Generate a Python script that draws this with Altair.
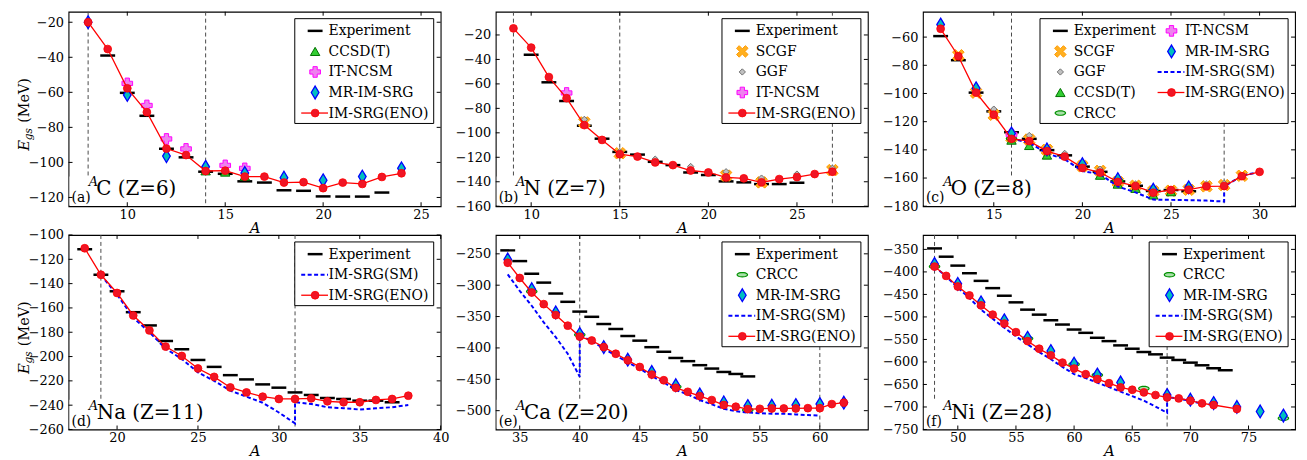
import math
import altair as alt
import pandas as pd

FONT = "DejaVu Serif"
W, H = 375, 196

# ---------------- (a) carbon ----------------
C_EXP_A = [9, 10, 11, 12, 13, 14, 15, 16, 17, 18, 19, 20, 21, 22, 23]
C_EXP_E = [-39.0, -60.3, -73.4, -92.2, -97.1, -105.3, -106.5, -110.8, -111.5, -115.9, -116.2, -119.4, -119.5, -119.5, -117.2]
C_ENO_A = [8, 9, 10, 11, 12, 13, 14, 15, 16, 17, 18, 19, 20, 21, 22, 23, 24]
C_ENO_E = [-20.0, -35.3, -57.7, -71.3, -92.1, -95.8, -104.9, -104.7, -108.1, -108.1, -111.5, -111.3, -114.7, -111.5, -112.3, -108.3, -106.2]
C_CCSDT_A = [14, 15, 16]
C_CCSDT_E = [-104.8, -105.5, -107.8]
C_NCSM_A = [10, 11, 12, 13, 15, 16]
C_NCSM_E = [-54.9, -67.5, -86.6, -92.3, -101.7, -103.4]
C_MR_A = [8, 10, 12, 14, 16, 18, 20, 22, 24]
C_MR_E = [-20.0, -61.5, -96.4, -102.5, -106.0, -108.7, -110.2, -108.1, -103.4]
C_DRIP = [8, 14]

# ---------------- (b) nitrogen ----------------
N_EXP_A = [10, 11, 12, 13, 14, 15, 16, 17, 18, 19, 20, 21, 22, 23, 24, 25]
N_EXP_E = [-36.2, -58.7, -73.9, -94.2, -104.8, -115.6, -117.8, -123.7, -126.4, -132.4, -134.5, -139.7, -140.5, -141.9, -141.9, -140.8]
N_ENO_A = [9, 10, 11, 12, 13, 14, 15, 16, 17, 18, 19, 20, 21, 22, 23, 24, 25, 26, 27]
N_ENO_E = [-14.6, -30.3, -54.4, -71.7, -93.7, -105.8, -117.5, -119.4, -124.2, -126.4, -130.8, -132.4, -136.5, -137.2, -140.5, -137.8, -136.2, -133.7, -131.8]
N_SCGF_A = [13, 15, 21, 23, 27]
N_SCGF_E = [-91.5, -116.7, -135.0, -140.5, -130.5]
N_GGF_A = [13, 15, 17, 19, 21, 23, 25, 27]
N_GGF_E = [-89.0, -115.3, -121.5, -127.5, -131.8, -137.0, -133.7, -128.9]
N_NCSM_A = [12]
N_NCSM_E = [-67.4]
N_DRIP = [9, 15, 27]

# ---------------- (c) oxygen ----------------
O_EXP_A = [12, 13, 14, 15, 16, 17, 18, 19, 20, 21, 22, 23, 24, 25, 26]
O_EXP_E = [-59.3, -76.4, -99.4, -112.7, -127.5, -132.2, -140.2, -143.9, -151.9, -155.6, -162.4, -165.5, -169.2, -168.5, -169.4]
O_ENO_A = [12, 13, 14, 15, 16, 17, 18, 19, 20, 21, 22, 23, 24, 25, 26, 27, 28, 29, 30]
O_ENO_E = [-54.1, -73.6, -99.4, -115.1, -132.2, -133.8, -140.9, -144.8, -152.8, -156.1, -162.7, -165.7, -170.4, -168.5, -168.3, -165.9, -165.7, -158.7, -155.6]
O_SCGF_A = [13, 14, 15, 16, 17, 18, 20, 21, 22, 23, 24, 25, 26, 27, 28, 29]
O_SCGF_E = [-72.9, -99.4, -115.1, -131.0, -132.7, -140.0, -151.5, -154.9, -162.7, -165.5, -169.4, -169.0, -168.3, -165.9, -165.0, -158.4]
O_GGF_A = [15, 16, 17, 18, 19, 20, 21, 22, 23, 24, 26, 27, 28]
O_GGF_E = [-111.1, -126.8, -129.8, -138.5, -142.5, -149.8, -153.7, -160.3, -164.3, -166.6, -166.2, -164.3, -163.8]
O_CCSDT_A = [16, 17, 18, 21, 22, 23, 24, 25]
O_CCSDT_E = [-133.1, -136.9, -143.7, -158.0, -164.3, -167.3, -172.0, -169.7]
O_CRCC_A = [16, 22, 24]
O_CRCC_E = [-132.0, -162.0, -169.0]
O_NCSM_A = [16]
O_NCSM_E = [-129.1]
O_MR_A = [12, 14, 16, 18, 20, 22, 24, 26]
O_MR_E = [-51.1, -96.3, -128.4, -139.7, -150.2, -160.8, -168.3, -166.6]
O_SM_A = [16, 17, 18, 19, 20, 21, 22, 23, 24, 25, 26, 27, 28, 28, 29, 30]
O_SM_E = [-132.0, -135.0, -142.5, -146.7, -155.0, -157.3, -166.0, -170.2, -175.3, -175.5, -175.7, -176.0, -176.7, -166.0, -158.4, -155.6]
O_DRIP = [16, 28]

# ---------------- (d) sodium ----------------
NA_EXP_A = [18, 19, 20, 21, 22, 23, 24, 25, 26, 27, 28, 29, 30, 31, 32, 33, 34, 35, 36, 37]
NA_EXP_E = [-111.7, -132.7, -146.3, -163.5, -174.4, -187.2, -194.0, -202.8, -208.5, -215.3, -218.8, -222.9, -225.6, -229.5, -231.6, -234.1, -234.9, -236.3, -236.3, -237.6]
NA_ENO_A = [18, 19, 20, 21, 22, 23, 24, 25, 26, 27, 28, 29, 30, 31, 32, 33, 34, 35, 36, 37, 38]
NA_ENO_E = [-110.9, -132.7, -147.7, -166.2, -178.5, -191.8, -199.5, -209.8, -216.7, -225.4, -229.5, -233.0, -234.9, -234.9, -234.4, -236.8, -237.6, -237.6, -235.7, -234.9, -232.2]
NA_SM_A = [19, 20, 21, 22, 23, 24, 25, 26, 27, 28, 29, 30, 31, 31, 32, 33, 34, 35, 36, 37, 38]
NA_SM_E = [-133.0, -149.0, -168.0, -180.0, -193.5, -202.0, -213.0, -220.0, -228.0, -233.0, -238.0, -246.0, -255.0, -237.6, -239.0, -241.7, -242.5, -243.6, -242.5, -241.7, -239.8]
NA_DRIP = [19, 31]

# ---------------- (e) calcium ----------------
CA_EXP_A = [34, 35, 36, 37, 38, 39, 40, 41, 42, 43, 44, 45, 46, 47, 48, 49, 50, 51, 52, 53, 54]
CA_EXP_E = [-244.5, -261.6, -281.6, -295.9, -313.3, -326.5, -342.1, -350.4, -361.9, -369.8, -381.0, -388.4, -398.8, -406.1, -416.0, -421.1, -427.5, -432.9, -438.3, -441.5, -445.4]
CA_ENO_A = [34, 35, 36, 37, 38, 39, 40, 41, 42, 43, 44, 45, 46, 47, 48, 49, 50, 51, 52, 53, 54, 55, 56, 57, 58, 59, 60, 61, 62]
CA_ENO_E = [-264.2, -288.5, -311.7, -330.2, -347.6, -364.5, -381.9, -388.2, -398.7, -409.3, -419.8, -430.4, -442.5, -451.5, -463.6, -469.9, -476.8, -483.1, -491.0, -493.7, -497.5, -497.0, -496.5, -496.5, -496.5, -496.0, -496.0, -489.5, -487.3]
CA_MR_A = [34, 36, 38, 40, 42, 44, 46, 48, 50, 52, 54, 56, 58, 60, 62]
CA_MR_E = [-259.0, -306.4, -343.4, -377.6, -398.7, -418.8, -438.3, -459.4, -474.2, -486.8, -492.6, -492.1, -491.0, -489.5, -487.3]
CA_CRCC_A = [36, 40, 48, 54]
CA_CRCC_E = [-310.0, -379.0, -462.0, -499.0]
CA_SM_A = [34, 35, 36, 37, 38, 39, 40, 40, 41, 42, 43, 44, 45, 46, 47, 48, 49, 50, 51, 52, 53, 54, 55, 56, 57, 58, 59, 60]
CA_SM_E = [-282.7, -309.0, -332.8, -359.2, -382.9, -409.3, -446.0, -380.0, -389.0, -401.0, -412.0, -423.0, -433.0, -445.0, -455.0, -467.0, -474.0, -483.0, -490.0, -497.0, -501.0, -503.0, -504.0, -505.0, -505.0, -506.0, -507.0, -508.0]
CA_DRIP = [40, 60]

# ---------------- (f) nickel ----------------
NI_EXP_A = [48, 49, 50, 51, 52, 53, 54, 55, 56, 57, 58, 59, 60, 61, 62, 63, 64, 65, 66, 67, 68, 69, 70, 71, 72, 73]
NI_EXP_E = [-347.8, -366.2, -386.0, -402.9, -419.9, -436.0, -452.9, -467.6, -483.8, -494.9, -507.4, -516.9, -528.0, -535.3, -546.3, -553.7, -563.2, -570.6, -577.9, -583.1, -590.4, -595.6, -601.5, -607.4, -614.0, -618.4]
NI_ENO_A = [48, 49, 50, 51, 52, 53, 54, 55, 56, 57, 58, 59, 60, 61, 62, 63, 64, 65, 66, 67, 68, 69, 70, 71, 72, 74]
NI_ENO_E = [-388.2, -408.8, -432.4, -452.2, -474.3, -494.9, -514.7, -533.8, -553.7, -570.6, -585.3, -601.5, -614.7, -627.2, -638.2, -647.1, -656.6, -661.8, -667.6, -673.5, -678.7, -680.9, -686.0, -691.9, -695.6, -704.4]
NI_MR_A = [48, 50, 52, 54, 56, 58, 60, 62, 64, 68, 70, 72, 74, 76, 78]
NI_MR_E = [-382.4, -426.5, -467.6, -507.4, -546.3, -575.7, -603.7, -628.0, -645.6, -673.5, -683.8, -691.2, -700.0, -710.0, -719.0]
NI_CRCC_A = [48, 56, 60, 62, 66, 78]
NI_CRCC_E = [-388.0, -548.0, -605.0, -629.0, -659.0, -725.0]
NI_SM_A = [48, 49, 50, 51, 52, 53, 54, 55, 56, 57, 58, 59, 60, 61, 62, 63, 64, 65, 66, 67, 68, 68, 69, 70, 71, 72]
NI_SM_E = [-388.0, -410.0, -435.0, -458.0, -484.0, -504.0, -524.0, -543.0, -561.0, -578.0, -594.0, -611.0, -627.0, -636.0, -646.0, -656.0, -666.0, -676.0, -686.0, -699.0, -713.0, -678.0, -681.0, -687.0, -692.0, -696.0]
NI_DRIP = [48, 68]

# ---------------- text ----------------
YTITLE_MAIN, YTITLE_SUB, YTITLE_UNIT = "E", "gs", "(MeV)"
XTITLE = "A"

# ---------------- marker styles ----------------
def poly_path(pts):
    return "M" + "L".join(f"{x:.3f},{y:.3f}" for x, y in pts) + "Z"

_a = 0.3
_plus = [(_a, 1), (_a, _a), (1, _a), (1, -_a), (_a, -_a), (_a, -1), (-_a, -1), (-_a, -_a),
         (-1, -_a), (-1, _a), (-_a, _a), (-_a, 1)]
X_PATH = poly_path([((x - y) / math.sqrt(2), (x + y) / math.sqrt(2)) for x, y in _plus])
ELLIPSE_PATH = poly_path([(math.cos(2 * math.pi * k / 20), 0.42 * math.sin(2 * math.pi * k / 20)) for k in range(20)])
THIN_DIAMOND = "M0,-1L0.6,0L0,1L-0.6,0Z"

MARKERS = {
    "CCSD(T)": dict(shape="triangle-up", size=90, fill="#32cd32", stroke="#007000", strokeWidth=1),
    "IT-NCSM": dict(shape="cross", size=115, fill="#ee82ee", stroke="#ff00ff", strokeWidth=1),
    "MR-IM-SRG": dict(shape=THIN_DIAMOND, size=165, fill="#00bfbf", stroke="#0000ff", strokeWidth=1.3),
    "SCGF": dict(shape=X_PATH, size=160, fill="#ffb020", stroke="#ff9900", strokeWidth=1),
    "GGF": dict(shape="diamond", size=40, fill="#c0c0c0", stroke="#707070", strokeWidth=1),
    "CRCC": dict(shape=ELLIPSE_PATH, size=110, fill="#a8e0a8", stroke="#009000", strokeWidth=1.2),
}
RED = "#ff0000"
BLUE = "#0000ff"

PANELS = [
    dict(tag="(a)", elem="C", Z=6, xdom=[7, 26], ydom=[-125, -14], xticks=[10, 15, 20, 25],
         yticks=[-120, -100, -80, -60, -40, -20], drip=C_DRIP, lw=114, ytitle=True,
         series={"Experiment": (C_EXP_A, C_EXP_E), "CCSD(T)": (C_CCSDT_A, C_CCSDT_E),
                 "IT-NCSM": (C_NCSM_A, C_NCSM_E), "MR-IM-SRG": (C_MR_A, C_MR_E),
                 "IM-SRG(ENO)": (C_ENO_A, C_ENO_E)},
         legend=["Experiment", "CCSD(T)", "IT-NCSM", "MR-IM-SRG", "IM-SRG(ENO)"], ncol=1),
    dict(tag="(b)", elem="N", Z=7, xdom=[8, 29], ydom=[-160, -1], xticks=[10, 15, 20, 25],
         yticks=[-160, -140, -120, -100, -80, -60, -40, -20], drip=N_DRIP, lw=112, ytitle=False,
         series={"Experiment": (N_EXP_A, N_EXP_E), "SCGF": (N_SCGF_A, N_SCGF_E),
                 "GGF": (N_GGF_A, N_GGF_E), "IT-NCSM": (N_NCSM_A, N_NCSM_E),
                 "IM-SRG(ENO)": (N_ENO_A, N_ENO_E)},
         legend=["Experiment", "SCGF", "GGF", "IT-NCSM", "IM-SRG(ENO)"], ncol=1),
    dict(tag="(c)", elem="O", Z=8, xdom=[11, 32], ydom=[-180, -42], xticks=[15, 20, 25, 30],
         yticks=[-180, -160, -140, -120, -100, -80, -60], drip=O_DRIP, lw=112, ytitle=False,
         series={"Experiment": (O_EXP_A, O_EXP_E), "SCGF": (O_SCGF_A, O_SCGF_E),
                 "GGF": (O_GGF_A, O_GGF_E), "CCSD(T)": (O_CCSDT_A, O_CCSDT_E),
                 "CRCC": (O_CRCC_A, O_CRCC_E), "IT-NCSM": (O_NCSM_A, O_NCSM_E),
                 "MR-IM-SRG": (O_MR_A, O_MR_E), "IM-SRG(SM)": (O_SM_A, O_SM_E),
                 "IM-SRG(ENO)": (O_ENO_A, O_ENO_E)},
         legend=["Experiment", "SCGF", "GGF", "CCSD(T)", "CRCC", "IT-NCSM", "MR-IM-SRG",
                 "IM-SRG(SM)", "IM-SRG(ENO)"], ncol=2),
    dict(tag="(d)", elem="Na", Z=11, xdom=[17, 40], ydom=[-260, -100], xticks=[20, 25, 30, 35, 40],
         yticks=[-260, -240, -220, -200, -180, -160, -140, -120, -100], drip=NA_DRIP, lw=138, ytitle=True,
         series={"Experiment": (NA_EXP_A, NA_EXP_E), "IM-SRG(SM)": (NA_SM_A, NA_SM_E),
                 "IM-SRG(ENO)": (NA_ENO_A, NA_ENO_E)},
         legend=["Experiment", "IM-SRG(SM)", "IM-SRG(ENO)"], ncol=1),
    dict(tag="(e)", elem="Ca", Z=20, xdom=[33, 64], ydom=[-530, -220], xticks=[35, 40, 45, 50, 55, 60],
         yticks=[-500, -450, -400, -350, -300, -250], drip=CA_DRIP, lw=134, ytitle=False,
         series={"Experiment": (CA_EXP_A, CA_EXP_E), "CRCC": (CA_CRCC_A, CA_CRCC_E),
                 "MR-IM-SRG": (CA_MR_A, CA_MR_E), "IM-SRG(SM)": (CA_SM_A, CA_SM_E),
                 "IM-SRG(ENO)": (CA_ENO_A, CA_ENO_E)},
         legend=["Experiment", "CRCC", "MR-IM-SRG", "IM-SRG(SM)", "IM-SRG(ENO)"], ncol=1),
    dict(tag="(f)", elem="Ni", Z=28, xdom=[47, 79], ydom=[-750, -318], xticks=[50, 55, 60, 65, 70, 75],
         yticks=[-750, -700, -650, -600, -550, -500, -450, -400, -350], drip=NI_DRIP, lw=130, ytitle=False,
         series={"Experiment": (NI_EXP_A, NI_EXP_E), "CRCC": (NI_CRCC_A, NI_CRCC_E),
                 "MR-IM-SRG": (NI_MR_A, NI_MR_E), "IM-SRG(SM)": (NI_SM_A, NI_SM_E),
                 "IM-SRG(ENO)": (NI_ENO_A, NI_ENO_E)},
         legend=["Experiment", "CRCC", "MR-IM-SRG", "IM-SRG(SM)", "IM-SRG(ENO)"], ncol=1),
]

DRAW_ORDER = ["Experiment", "SCGF", "GGF", "CCSD(T)", "CRCC", "IT-NCSM", "MR-IM-SRG",
              "IM-SRG(SM)", "IM-SRG(ENO)"]


def one(**kw):
    return alt.Data(values=[kw])


def panel(p):
    xs = alt.Scale(domain=p["xdom"], nice=False, zero=False)
    ys = alt.Scale(domain=p["ydom"], nice=False, zero=False)
    X = alt.X("A:Q", scale=xs, axis=alt.Axis(values=p["xticks"], title=XTITLE))
    Y = alt.Y("E:Q", scale=ys, axis=alt.Axis(values=p["yticks"], title=None))
    L = []
    # drip-line markers
    L.append(alt.Chart(pd.DataFrame({"A": p["drip"]})).mark_rule(
        color="#4a4a4a", strokeDash=[4, 3], strokeWidth=1).encode(x=X, y=alt.value(0), y2=alt.value(H)))
    # white box behind panel label
    L.append(alt.Chart(one(k=1)).mark_rect(fill="white", strokeWidth=0).encode(
        x=alt.value(1), x2=alt.value(p["lw"]), y=alt.value(166), y2=alt.value(H - 1)))
    # data series
    for name in DRAW_ORDER:
        if name not in p["series"]:
            continue
        A, E = p["series"][name]
        df = pd.DataFrame({"A": A, "E": E, "i": list(range(len(A)))})
        base = alt.Chart(df)
        if name == "Experiment":
            L.append(base.mark_tick(orient="horizontal", size=15, thickness=2.5, color="black",
                                    opacity=1).encode(x=X, y=Y))
        elif name == "IM-SRG(SM)":
            L.append(base.mark_line(color=BLUE, strokeWidth=2, strokeDash=[4, 2.5]).encode(
                x=X, y=Y, order="i:Q"))
        elif name == "IM-SRG(ENO)":
            L.append(base.mark_line(color=RED, strokeWidth=1.3).encode(x=X, y=Y, order="i:Q"))
            L.append(base.mark_point(shape="circle", filled=True, fill="#f01525", stroke=RED,
                                     strokeWidth=0.8, size=62, opacity=1).encode(x=X, y=Y))
        else:
            L.append(base.mark_point(filled=True, opacity=1, **MARKERS[name]).encode(x=X, y=Y))
    # legend
    names, ncol = p["legend"], p["ncol"]
    per = math.ceil(len(names) / ncol)
    colW = 112
    bw = 140 if ncol == 1 else 250
    bx0 = W - 7 - bw
    by0 = 7
    rowH = 20.7
    by1 = by0 + 12.3 + (per - 1) * rowH + 10.5
    L.append(alt.Chart(one(k=1)).mark_rect(fill="white", stroke="black", strokeWidth=1).encode(
        x=alt.value(bx0), x2=alt.value(bx0 + bw), y=alt.value(by0), y2=alt.value(by1)))
    for k, name in enumerate(names):
        col, row = divmod(k, per)
        cx = bx0 + col * colW
        sy = by0 + 12.3 + row * rowH
        sx = cx + 20.5
        d = alt.Chart(one(label=name))
        if name == "Experiment":
            L.append(d.mark_rule(color="black", strokeWidth=2.5).encode(
                x=alt.value(sx - 7.5), x2=alt.value(sx + 7.5), y=alt.value(sy)))
        elif name == "IM-SRG(SM)":
            L.append(d.mark_rule(color=BLUE, strokeWidth=2, strokeDash=[4, 2.5]).encode(
                x=alt.value(sx - 14), x2=alt.value(sx + 13), y=alt.value(sy)))
        elif name == "IM-SRG(ENO)":
            L.append(d.mark_rule(color=RED, strokeWidth=1.3).encode(
                x=alt.value(sx - 14), x2=alt.value(sx + 13), y=alt.value(sy)))
            L.append(d.mark_point(shape="circle", filled=True, fill="#f01525", stroke=RED,
                                  strokeWidth=0.8, size=62, opacity=1).encode(
                x=alt.value(sx), y=alt.value(sy)))
        else:
            L.append(d.mark_point(filled=True, opacity=1, **MARKERS[name]).encode(
                x=alt.value(sx), y=alt.value(sy)))
        L.append(d.mark_text(align="left", baseline="middle", font=FONT, fontSize=14,
                             color="black").encode(x=alt.value(cx + 34), y=alt.value(sy + 0.5),
                                                   text="label:N"))
    # panel labels
    L.append(alt.Chart(one(t=p["tag"])).mark_text(align="left", baseline="alphabetic", font=FONT,
                                                  fontSize=14, color="black").encode(
        x=alt.value(3), y=alt.value(192), text="t:N"))
    L.append(alt.Chart(one(t="A")).mark_text(align="left", baseline="alphabetic", font=FONT,
                                             fontSize=13, fontStyle="italic", color="black").encode(
        x=alt.value(20.5), y=alt.value(176), text="t:N"))
    L.append(alt.Chart(one(t=f"{p['elem']} (Z={p['Z']})")).mark_text(
        align="left", baseline="alphabetic", font=FONT, fontSize=20, color="black").encode(
        x=alt.value(28 if len(p["elem"]) == 1 else 28.5), y=alt.value(185), text="t:N"))
    # y-axis title
    if p["ytitle"]:
        L.append(alt.Chart(one(t=YTITLE_MAIN)).mark_text(
            align="left", baseline="alphabetic", angle=270, font=FONT, fontSize=15,
            fontStyle="italic", color="black").encode(x=alt.value(-40), y=alt.value(140), text="t:N"))
        L.append(alt.Chart(one(t=YTITLE_SUB)).mark_text(
            align="left", baseline="alphabetic", angle=270, font=FONT, fontSize=10.5,
            fontStyle="italic", color="black").encode(x=alt.value(-36.5), y=alt.value(129.5), text="t:N"))
        L.append(alt.Chart(one(t=YTITLE_UNIT)).mark_text(
            align="left", baseline="alphabetic", angle=270, font=FONT, fontSize=14.5,
            color="black").encode(x=alt.value(-40), y=alt.value(112), text="t:N"))
    # inward ticks on all four sides
    xt = alt.Chart(pd.DataFrame({"A": p["xticks"]}))
    yt = alt.Chart(pd.DataFrame({"E": p["yticks"]}))
    L.append(xt.mark_rule(color="black", strokeWidth=1).encode(x=X, y=alt.value(H), y2=alt.value(H - 4)))
    L.append(xt.mark_rule(color="black", strokeWidth=1).encode(x=X, y=alt.value(0), y2=alt.value(4)))
    L.append(yt.mark_rule(color="black", strokeWidth=1).encode(y=Y, x=alt.value(0), x2=alt.value(4)))
    L.append(yt.mark_rule(color="black", strokeWidth=1).encode(y=Y, x=alt.value(W - 4), x2=alt.value(W)))
    return alt.layer(*L).properties(width=W, height=H)


chart = alt.concat(
    *[panel(p) for p in PANELS], columns=3,
    spacing={"row": 29, "column": 55.5}, bounds="flush"
).properties(
    padding={"left": 8, "top": 0, "right": 2, "bottom": 0}
).configure_view(
    stroke="black", strokeWidth=1.1
).configure_axis(
    labelFont=FONT, labelFontSize=13, labelColor="black", ticks=False, tickSize=0,
    domain=False, grid=False, labelFlush=False, titleFont=FONT, titleFontSize=15,
    titleFontStyle="italic", titleFontWeight="normal", titleColor="black"
).configure_axisX(
    labelPadding=2, titlePadding=-1
).configure_axisY(
    labelPadding=5
)

chart.save("out.html", embed_options={"renderer": "svg", "actions": False})
